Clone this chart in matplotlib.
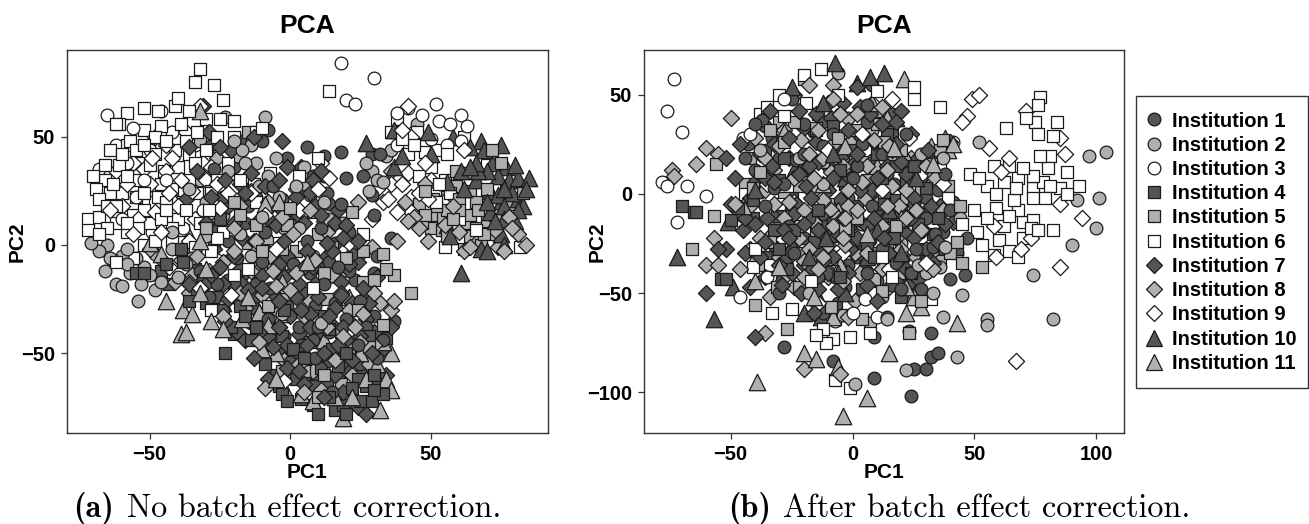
import numpy as np
import matplotlib
matplotlib.use("Agg")
import matplotlib.pyplot as plt
from matplotlib.lines import Line2D

labels = ["Institution %d" % i for i in range(1, 12)]
DARK = "#555555"; GREY = "#b0b0b0"; WHITE = "#ffffff"
colors = [DARK, GREY, WHITE, DARK, GREY, WHITE, DARK, GREY, WHITE, DARK, GREY]
markers = ["o", "o", "o", "s", "s", "s", "D", "D", "D", "^", "^"]
sizes = [84, 84, 84, 70, 70, 70, 68, 68, 68, 140, 140]

# ---------- panel (a) ----------
a1 = [(-8,53),(-18,48),(-10,48),(-1,40),(6,45),(12,41),(18,43),(20,31),(12,32),(26,32),(29,42),(32,42),(29,23),(30,14),(18,19),(14,19),(13,24),(16,1),(36,3),(31,-5),(30,-13),
(-26,29),(-27,35),(-3,21),(-6,27),(-12,22),(-16,10),(-22,2),(-32,-12),(-26,-18),(-20,-24),(-13,-29),(-8,-34),(-3,-15),(1,-9),(5,-22),(9,-28),(14,-40),(20,-34),(25,-26),(30,-33),(37,-35),(33,-44),(4,-46),(9,-52),(20,-58),(-4,-4),(6,2),(11,8),(-10,-8),(-17,-14),(-1,-28),(3,-38),(12,-18),(17,-10),(23,-16),(27,-22),(-7,-20),(16,-27),(24,-46),
(-20,36),(-15,18),(-24,22),(-34,-3),(-29,-24),(-12,-18),(7,-13),(14,-8),(22,-4),(10,-38),(18,-48),(6,-60),(-2,-42),(27,-38),(31,-52),(2,12),(-9,6),(-19,-6),(8,32),(21,6),
(-14,-36),(-22,-16),(0,-54),(8,-44),(15,-68),(21,-12),(25,-55)]
a2 = [(-23,59),(-9,59),(-14,46),(-17,44),(-20,48),(-19,41),(-12,38),(5,36),(-4,22),(-10,13),(-65,0),(-60,-5),(-68,-3),(-63,-7),(-58,-2),(-66,-12),(-62,-18),(-71,1),(-60,-19),(-54,-26),(-52,-10),(-57,-13),(-48,-4),(-40,-15),(-46,-17),(-24,14),(-18,5),(-30,20),(-36,26),(2,27),(7,23),(19,10),(22,0),(14,12),(27,38),(34,41),(29,34),(31,30),(28,25),(33,29),(-2,8),(8,-5),(-14,-5),(-30,4),(-42,6),(36,44),(45,56),(-11,27),(-3,-32),(11,-36),
(-55,-6),(-50,-14),(-44,-9),(-64,-6),(-35,-6),(-27,11),(-16,38),(-8,32),(3,8),(12,20),(-32,30),(-6,-10),(-48,-21),
(-42,-2),(-37,-9),(-53,-18),(-58,-9),(-22,34),(-5,40)]
a3 = [(18,84),(30,77),(20,67),(23,65),(38,61),(42,63),(52,65),(61,60),(63,55),(57,56),(53,57),(50,49),(38,46),(61,48),(47,60),(-65,60),(-62,46),(-46,62),(-58,38),(-50,44),(-39,24),(-68,35),(-55,22),(-44,30),(-31,16),(-24,-2),(-49,6),(-38,8),(-60,12),(-52,30),(-34,46),(-42,52),(44,52),(56,46),(-56,54),(-28,40)]
a4 = [(-27,2),(-25,12),(-55,-13),(-52,-13),(-39,-2),(-46,-12),(-43,-18),(-33,-22),(-31,-16),(-38,-8),(-26,-24),(-24,-30),(-20,-41),(-21,-38),(-14,-44),(-9,-46),(-8,-38),(-3,-42),(1,-48),(5,-52),(-4,-65),(-3,-69),(4,-71),(9,-65),(14,-70),(16,-76),(19,-74),(25,-72),(29,-72),(33,-69),(27,-65),(24,-62),(11,-57),(17,-56),(20,-50),(24,-48),(34,-43),(14,-39),(-2,-30),(-16,-33),(-23,-50),(8,-74),(20,-78),(12,-33),(-9,-55),(-26,8),
(-30,-27),(-36,-26),(-18,-28),(-12,-38),(-5,-60),(2,-62),(13,-64),(22,-66),(30,-60),(6,-58),(-3,-50),(15,-48),(28,-42),
(-44,-9),(-34,-11),(-20,-18),(-1,-72),(10,-78),(30,-67)]
a5 = [(-32,48),(-15,52),(-28,25),(-12,9),(0,17),(10,5),(8,15),(15,-1),(22,15),(-10,-3),(-4,-10),(2,-3),(12,-13),(26,-3),(33,-4),(37,-14),(43,-22),(33,-37),(30,-16),(24,-30),(13,-25),(18,-40),(26,-40),(21,-51),(12,-60),(-2,-25),(8,-33),(5,-58),(28,-47),(-8,-28),(-15,1),(26,-17),(34,-11),(20,-6),(48,25),(51,21),(46,19),(56,16),(60,21),(60,16),(66,8),(64,4),(70,11),(68,0),(58,12),(53,13),(64,25),(73,14),(48,14),(70,26),(59,27),(66,20),(63,33),(83,24),(72,44),(50,8),(62,-2),(-1,9),(5,28),(-20,20),
(54,7),(56,4),(52,18),(62,10),(67,16),(72,5),(78,19),(75,38),(59,34),(10,-70),(18,-64),(-3,-58),(7,-45),(-18,14),(-30,8),
(56,22),(50,14),(47,10),(64,14),(69,5),(77,25),(-13,-12),(-3,-2)]
a6 = [(-32,81),(-34,75),(-27,74),(-24,67),(-40,68),(-58,61),(-52,63),(-41,64),(-47,62),(-36,62),(-61,56),(-52,53),(-46,55),(-39,56),(-33,52),(-20,57),(-58,46),(-64,44),(-55,44),(-48,42),(-41,44),(-36,42),(-66,37),(-61,37),(-50,37),(-45,34),(-34,38),(-26,30),(-70,32),(-63,28),(-55,30),(-42,26),(-36,30),(-68,21),(-62,18),(-55,22),(-48,20),(-44,20),(-37,16),(-29,16),(-72,12),(-66,13),(-62,10),(-50,10),(-46,12),(-38,7),(-30,6),(-24,6),(-72,7),(-68,5),(-58,6),(-52,0),(-42,2),(-34,-1),(-62,-8),(-56,-6),(-28,-3),(-12,52),(-10,54),(-18,30),(-13,28),(-6,22),(-12,20),(-20,-14),(-15,-11),(-8,-7),(5,-1),(14,71),(3,32),(10,40),(26,5),(38,58),(45,52),(36,52),(56,42),(50,36),(60,33),(62,50),(42,42),(53,28),(70,37),(57,24),(52,20),(60,12),(66,7),(55,-1),(-34,-2),(-28,-30),(-4,1),(-54,8),(82,-1),(-62,56),(-57,48),(-26,3),(8,-20),(-7,33),
(-66,30),(-60,24),(-58,32),(-52,24),(-46,28),(-40,36),(-30,44),(-26,50),(-44,16),(-56,14),(-64,24),(-48,50),(-37,48),(-25,58),(-30,58),(-68,13),(-40,12),(-52,16),(44,46),(48,43),(55,30),
(-69,26),(-65,18),(-60,42),(-54,38),(-47,22),(-42,8),(-48,2),(-58,10),(-33,24),(-22,38),(-20,50),(-44,48),(-52,46),(-38,20),(-32,10),(-28,24),(-65,8),(40,49),(52,44),(46,32)]
a7 = [(-31,64),(-29,52),(-13,50),(-36,45),(-25,45),(-28,46),(-21,44),(-3,48),(-14,33),(-23,30),(-37,21),(-18,28),(-9,27),(-1,36),(11,34),(-22,18),(-12,10),(-7,18),(2,22),(7,24),(-17,3),(-5,9),(5,10),(11,14),(20,9),(-9,-2),(-1,-5),(6,-3),(13,1),(19,3),(-27,-2),(-18,-11),(-10,-14),(-2,-15),(5,-10),(11,-11),(18,-17),(24,-8),(-22,-25),(-15,-21),(-6,-22),(2,-24),(9,-18),(16,-29),(26,-20),(-14,-32),(-7,-30),(0,-33),(7,-32),(14,-33),(21,-35),(28,-27),(-19,-40),(-11,-40),(-4,-38),(3,-41),(10,-42),(17,-46),(25,-42),(-6,-47),(2,-50),(9,-56),(16,-60),(22,-53),(29,-50),(34,-60),(30,-63),(-1,-57),(5,-64),(12,-70),(24,-75),(27,-78),(19,-68),(-30,10),(-25,-10),(31,-15),(36,-38),(15,-3),(-2,2),(8,30),
(-12,-24),(-4,-9),(3,-18),(10,-24),(18,-23),(-17,-18),(-8,-42),(-1,-46),(6,-46),(12,-50),(20,-44),(27,-34),(-24,-18),(-30,-18),(-20,-5),(-13,2),(0,10),(9,18),(16,10),(24,2),(-8,12),(-20,10),(-28,22),(-16,24),(-4,30),(4,36),(13,-5),(22,-27),(4,-30),(-4,-26),(15,-37),(30,-40),(14,-53),(7,-38),(-13,-52),(26,-58),(33,-48),(-36,-18),
(-16,-44),(-10,-20),(1,-12),(8,-10),(21,-9),(19,-38),(3,-58),(-8,-62),(10,-62),(18,-55),(-23,-35),(-28,-14),(-11,-6),(-3,16),(17,16),(-33,34)]
a8 = [(-26,40),(-14,25),(-8,20),(-20,8),(-33,-5),(-24,-8),(-39,-7),(-14,-12),(-7,-5),(1,5),(13,6),(24,-5),(18,-22),(9,-7),(2,-13),(-10,-23),(-4,-31),(5,-33),(13,-38),(26,-32),(32,-27),(36,-30),(37,-26),(25,-45),(19,-42),(-5,-40),(-2,-53),(3,-55),(-9,-66),(5,-68),(22,-60),(28,-55),(-16,-29),(-6,-12),(-20,-3),(-35,-14),(-36,-22),(29,-1),(38,2),(7,16),(12,11),(24,20),(41,20),(44,13),(46,8),(49,2),(36,34),(48,28),(42,11),(58,18),(68,5),(74,-1),(84,0),(62,-3),(78,13),(70,8),(66,1),(81,5),(16,-53),(-11,-45),
(-28,15),(-18,18),(-3,13),(-12,2),(0,-21),(7,-26),(11,-46),(21,-30),(30,-22),(-24,-33),(-29,-12),(-45,-8),(-50,-2),(11,-67),(23,-38),(-2,-60),(55,9),(73,7),(76,-3),(60,6),(17,-14),(2,26),
(-41,-17),(-18,-22),(-5,-19),(15,-14),(8,-58),(30,-46),(64,-1),(79,8)]
a9 = [(-32,64),(-37,52),(-44,46),(-52,35),(-39,30),(-30,30),(-44,34),(-26,28),(-48,15),(-56,5),(-43,-10),(-36,-17),(-14,24),(-9,14),(-21,-23),(-14,-35),(-4,-38),(11,38),(14,31),(10,26),(3,16),(29,12),(43,50),(42,64),(40,53),(42,33),(48,38),(33,20),(35,21),(38,15),(43,22),(43,15),(49,21),(46,24),(40,28),(54,20),(50,30),(-17,-26),(-32,-20),(-5,-2),(8,-44),(-2,-63),(-25,17),(21,1),(62,44),(31,26),(36,28),
(-58,28),(-50,28),(-42,40),(-35,25),(-48,50),(-60,18),(-54,12),(-46,6),(-34,12),(-28,36),(-40,18),(-22,24),(-64,16),(-56,38),
(-62,34),(-36,2),(-43,24),(-49,40),(-31,38)]
a10 = [(75,46),(68,48),(64,45),(85,31),(80,37),(77,36),(74,32),(81,31),(84,26),(76,26),(71,25),(81,21),(76,18),(81,16),(73,11),(80,11),(75,5),(76,0),(68,-2),(70,-3),(56,9),(57,4),(56,29),(62,26),(66,38),(50,42),(58,50),(49,52),(37,53),(40,41),(27,47),(37,36),(61,-13),(69,44),(70,20),(78,30),(74,23),(66,30),(71,15),(61,34),
(72,38),(79,24),(83,18),(67,34),(64,36),(74,17),(70,34),(76,12)]
a11 = [(-32,62),(-40,11),(-50,1),(-46,-4),(-32,2),(-8,4),(-12,-1),(-9,19),(-4,20),(-32,-22),(-24,-27),(-38,-30),(-39,-41),(-17,-34),(-24,-39),(-10,-48),(-11,-31),(-5,-50),(-3,-17),(6,-8),(21,-24),(-3,-32),(-8,-37),(-37,-40),(-15,-24),(36,-50),(33,-45),(34,-62),(36,-67),(-5,-62),(-2,-66),(8,-72),(25,-50),(22,-70),(32,-76),(19,-80),(12,-44),(4,-69),(31,-55),(-30,-11),
(-44,-26),(-35,-32),(16,-70),(27,-62),(-28,-35),(-36,4)]

# ---------- panel (b) ----------
b1 = [(24,-102),(9,-93),(-8,-84),(-28,-77),(9,-72),(32,-70),(23,-69),(14,-62),(32,-82),(35,-80),(25,-88),(30,-88),(46,-41),(40,-43),(-30,-50),(-6,-55),(-3,-47),(-12,-60),(16,-46),(20,-48),(23,-45),(28,-48),(-36,34),(-37,37),(-40,35),(-43,25),(-33,28),(-38,10),(-32,3),(-20,20),(-16,31),(-23,17),(-20,35),(-8,30),(6,45),(8,55),(16,40),(22,30),(12,20),(2,14),(-10,14),(-2,-2),(8,-6),(-12,-22),(-24,-30),(2,-32),(13,-18),(20,-10),(30,-12),(40,-8),(37,-19),(30,-32),(18,-35),(25,-5),(4,25),(-5,40),(35,2),(27,12),(-36,-6),(-14,-42),(7,-23),(41,-4),(33,-27),(47,-22),(-28,5),(17,5),(-25,48),
(-4,20),(6,36),(-12,24),(-30,18),(-40,12),(-18,-12),(-8,-14),(0,8),(12,-12),(22,-20),(34,-20),(26,-28),(6,-40),(-2,-36),(-20,-22),(12,-28),(30,-2),(38,10),(14,10),(10,-44),(-44,18),(-26,-16),(24,-40),(-6,-32)]
b2 = [(97,19),(104,21),(101,-2),(100,-17),(90,-26),(74,-41),(82,-63),(45,-51),(92,-3),(22,-89),(43,-82),(55,-63),(55,-66),(37,-62),(1,-96),(7,-65),(-4,-61),(-6,61),(52,26),(-18,-50),(43,-30),(36,-37),(30,-40),(38,-27),(33,-50),(25,-51),(-7,-42),(-22,18),(-38,22),(-12,5),(8,32),(16,16),(-2,38),(28,20),(37,18),(-30,-16),(-16,-34),(4,-15),(12,-52),(14,-63),(3,-52),(-5,-21),(20,-25),(44,-12),(27,-36),(-24,-7)]
b3 = [(-73,58),(-76,42),(-70,31),(-78,6),(-76,4),(-68,4),(-60,-1),(-72,-14),(-46,-52),(-28,48),(-15,-55),(10,-62),(-45,28),(-42,30),(5,-53),(-7,-64),(-12,-40),(41,26),(-35,-42),(0,-60),(-33,11),(20,-30),(28,10)]
b4 = [(-70,-6),(-65,-9),(-64,-9),(-54,-43),(-52,-43),(-28,-5),(-41,-12),(-50,-13),(-47,-7),(-30,-28),(-25,-2),(-15,32),(-30,7),(-20,12),(-5,-42),(20,-52),(-3,5),(-9,-57),(0,22),(13,-5),(20,-8),(28,-28),(-8,-21),(27,-15),(35,-12),(5,-15),(-17,-38),(10,20),(14,30),(9,-32),(-35,-32),(22,6),(18,-3),(30,3),(-27,-38),(8,-2),(-11,-16),(-28,18),(24,-40),(-5,12),(37,-28),(43,-28),(-41,-3),
(-24,-18),(-14,-8),(2,-6),(6,-26),(-8,34),(17,-22),(25,14),(33,-20),(-36,22),(12,8),(-16,-24),(-2,-18),(16,30),(4,-48),(-32,-18),(18,14)]
b5 = [(-66,-28),(-57,-11),(-56,15),(-27,-68),(-40,-56),(4,-63),(23,-70),(-9,-57),(12,-49),(28,-54),(53,-37),(-37,-36),(-22,-47),(-34,32),(-28,26),(-30,36),(-20,58),(-15,33),(-41,3),(-38,11),(-44,5),(-28,-2),(2,32),(10,42),(13,26),(-4,18),(6,7),(22,-2),(36,22),(37,27),(31,8),(-15,-18),(-20,-30),(-9,-33),(2,-12),(14,-25),(27,-10),(40,-30),(45,-35),(43,-24),(36,-34),(19,-40),(10,35),(-24,36),(32,15),(39,4),(9,-43),(-10,-5),(-31,-47),(-3,-17),
(-12,16),(4,16),(20,22),(-34,-24),(18,-16),(8,-30),(-22,4),(28,2),(-6,28),(44,-6),(-42,18)]
b6 = [(-33,-60),(-25,-58),(-11,-75),(-12,-68),(-15,-71),(-8,-73),(-1,-72),(-7,-94),(-1,-98),(7,-70),(32,-53),(77,49),(76,45),(71,38),(84,36),(63,33),(75,36),(76,30),(82,29),(77,19),(81,19),(80,13),(88,11),(93,4),(88,0),(85,3),(81,4),(79,-2),(74,9),(70,13),(64,14),(58,14),(55,4),(59,0),(67,3),(74,3),(74,-2),(66,-3),(59,-7),(64,-11),(70,-14),(74,-13),(73,-17),(76,-18),(82,-18),(70,-22),(60,-23),(51,-19),(45,-15),(53,-26),(58,-31),(64,-29),(68,-32),(36,44),(25,54),(25,48),(-20,60),(-13,63),(-35,44),(-28,39),(-23,39),(-14,40),(-19,46),(-6,50),(10,52),(-22,-10),(-30,-5),(-34,-36),(-41,-37),(-17,-44),(-16,-50),(-12,-58),(-2,-55),(16,-42),(12,-32),(36,14),(31,18),(39,-2),
(48,10),(52,8),(50,-8),(62,6),(68,8),(62,-16),(55,-12),(78,6),(68,-8),(-38,40),(-30,50),(-40,-28),(-44,0)]
b7 = [(-52,-28),(-40,-72),(-60,-50),(-16,-60),(-55,-28),(-50,-5),(-42,-2),(-46,25),(-52,18),(-32,6),(-20,33),(-12,36),(-4,46),(2,54),(-22,10),(-30,-8),(-35,-12),(-40,-15),(-28,-18),(-20,-15),(-12,-10),(-5,-3),(3,2),(10,8),(16,22),(-14,16),(-5,22),(4,28),(12,35),(18,25),(-26,18),(-32,25),(-38,20),(-44,-30),(-36,-24),(-25,-28),(-15,-28),(-6,-20),(2,-22),(9,-12),(17,-10),(25,-22),(-36,-42),(-25,-40),(-8,-32),(5,-38),(15,-30),(22,-38),(-6,-48),(10,-54),(27,-43),(30,-28),(38,-15),(25,-2),(32,-6),(28,8),(20,42),(-21,-50),(-14,-48),(-29,-46),(-42,-47),(22,10),(40,26),(7,40),(-17,-2),(0,15),(15,-2),(-10,2),(31,22),(-2,32),(7,16),(-23,-5),
(-45,-18),(-38,-32),(-30,-36),(-20,-36),(-10,-40),(-1,-28),(6,-16),(13,-22),(20,-16),(29,-18),(35,-24),(-33,14),(-26,28),(-15,26),(-9,38),(-1,8),(9,26),(20,16),(24,30),(10,-8),(-24,-10),(-14,-18),(-4,-12),(3,-30),(12,-38),(19,-46),(-34,42),(-22,42),(-10,46),(8,2),(14,14),(-19,4),(-8,8),(-40,6),(33,-35),(-18,-44),(24,-12),(18,36),(-31,-28),(-2,-40),(27,18),(3,44),(-48,8),(41,-14),(6,-46),
(-44,-12),(-26,-22),(-12,-34),(1,-14),(16,-16),(36,-6),(-36,8),(-18,14),(-7,-6),(12,-34),(28,-10),(-28,-34),(2,20),(21,-32),(-15,40),(34,18)]
b8 = [(-50,38),(-60,23),(-64,15),(-74,12),(-73,9),(-57,-22),(-60,-36),(-55,-36),(-20,-88),(-5,-91),(-36,-70),(-2,-62),(1,-54),(-46,-38),(-48,-5),(-55,20),(-40,28),(-36,18),(-28,32),(-18,20),(-14,-20),(-18,55),(-8,55),(-8,48),(-5,40),(-24,50),(-32,-5),(-22,-22),(-18,-28),(-14,-38),(-42,-28),(-33,-20),(-28,-12),(-24,8),(-16,8),(-9,11),(-2,-6),(-12,-3),(-6,-12),(2,-8),(10,-5),(8,-20),(18,-22),(28,-18),(-3,-26),(3,-40),(12,-38),(20,-28),(6,14),(14,12),(24,18),(-8,25),(4,6),(22,2),(33,-38),(-10,-42),(-24,-47),(-28,-42),(37,-8),(9,27),(34,8),(15,-47),(-2,2),(-20,-8),(-4,-22),
(-46,-10),(-38,-22),(-30,-32),(-20,-42),(-12,-32),(-6,-36),(-16,-14),(-26,-32),(-8,-16),(-3,-12),(5,-2),(16,4),(19,-6),(26,-8),(-12,18),(-21,27),(-32,12),(-14,32),(2,40),(12,44),(-1,26),(8,-32),(-9,-8),(-4,14),(15,24),(26,-32),(-34,-52),(-20,-34),(6,-30),(30,14),
(-42,-6),(-26,-4),(-10,-26),(12,-16),(22,-12),(32,-30),(-36,2),(-30,24),(-4,-44),(14,-6),(-16,2),(1,-30)]
b9 = [(67,-84),(85,-37),(94,-12),(85,-5),(87,20),(85,28),(71,42),(49,48),(52,50),(45,36),(47,39),(56,23),(64,18),(58,-16),(69,-28),(-24,-4),(-30,-30),(8,46),(16,48),(4,30),(-16,-6),(12,2),(-14,-55),(-4,-30),(30,-35),(59,-32),(73,-22),(37,5),(61,11),(-10,22),(23,28),(15,-38),(-35,5)]
b10 = [(-72,-32),(-51,-14),(-7,66),(7,59),(13,61),(2,56),(-57,-63),(-49,-47),(-25,54),(-12,46),(-32,-10),(-20,-43),(-3,-50),(-18,-32),(-11,-22),(-15,-50),(6,-32),(15,-8),(26,8),(-8,20),(18,38),(-3,8),(-25,-26),(10,-18),(-40,2),(-13,-62),(-20,-60),
(3,-12),(-6,-40),(20,-30),(-24,12),(12,24),(-30,-44)]
b11 = [(-4,-112),(6,-103),(-39,-95),(-20,-80),(-15,-83),(15,-80),(43,-65),(28,-57),(-6,-87),(-16,-52),(-8,-62),(-39,-30),(-45,-6),(-28,31),(-30,-37),(-25,-19),(22,-60),(25,-52),(38,28),(41,25),(32,24),(22,18),(14,38),(20,-12),(6,-20),(-15,-30),(-6,-8),(-40,-44),(-3,24),(33,15),(39,22),(29,-35),(-12,5),(22,-47),(17,23),(10,14),(-5,-36),(21,58),(8,46)]

panel_a = [a1, a2, a3, a4, a5, a6, a7, a8, a9, a10, a11]
panel_b = [b1, b2, b3, b4, b5, b6, b7, b8, b9, b10, b11]

xlim_a, ylim_a = (-79.4, 91.8), (-86.8, 90)
xlim_b, ylim_b = (-85.5, 111.3), (-120.5, 72.5)
xticks_a, yticks_a = [-50, 0, 50], [-50, 0, 50]
xticks_b, yticks_b = [-50, 0, 50, 100], [-100, -50, 0, 50]

W, H = 1309, 524
fig = plt.figure(figsize=(W / 100, H / 100), dpi=100)
SANS = ["Liberation Sans", "DejaVu Sans"]
SPINE = "#333333"


def draw(rect, panel, xlim, ylim, xticks, yticks, ylab_x):
    l, t, r, b = rect
    ax = fig.add_axes([l / W, 1 - b / H, (r - l) / W, (b - t) / H])
    rounds = 5
    for k in range(rounds):
        for pts, c, m, s in zip(panel, colors, markers, sizes):
            arr = np.array(pts, dtype=float)[k::rounds]
            if len(arr):
                ax.scatter(arr[:, 0], arr[:, 1], s=s, c=c, marker=m,
                           edgecolors="#1a1a1a", linewidths=0.9)
    ax.set_xlim(xlim); ax.set_ylim(ylim)
    ax.set_xticks(xticks); ax.set_yticks(yticks)
    ax.set_xticklabels([str(v).replace("-", "\u2212") for v in xticks],
                       fontfamily=SANS, fontweight="bold", fontsize=14.5)
    ax.set_yticklabels([str(v).replace("-", "\u2212") for v in yticks],
                       fontfamily=SANS, fontweight="bold", fontsize=14.5)
    ax.tick_params(length=4.5, width=0.9, color=SPINE, pad=4)
    for sp in ax.spines.values():
        sp.set_color(SPINE); sp.set_linewidth(1.0)
    ax.set_title("PCA", fontfamily=SANS, fontweight="bold", fontsize=19, pad=12)
    ax.set_xlabel("PC1", fontfamily=SANS, fontweight="bold", fontsize=15, va="center")
    ax.set_ylabel("PC2", fontfamily=SANS, fontweight="bold", fontsize=15, va="center")
    ax.xaxis.set_label_coords(0.5, -0.102)
    ax.yaxis.set_label_coords(ylab_x, 0.5)
    return ax


draw((67, 50, 548, 433), panel_a, xlim_a, ylim_a, xticks_a, yticks_a, -0.104)
draw((644, 50, 1124, 433), panel_b, xlim_b, ylim_b, xticks_b, yticks_b, -0.098)

handles = [Line2D([], [], ls="none", marker=m, mfc=c, mec="#1a1a1a", mew=0.9,
                  ms=s ** 0.5) for c, m, s in zip(colors, markers, sizes)]
leg = fig.legend(handles, labels, loc="lower left",
                 bbox_to_anchor=(1136 / W, 1 - 388 / H, 172 / W, 291 / H),
                 mode="expand", frameon=True, fancybox=False, edgecolor=SPINE,
                 framealpha=1, borderaxespad=0, borderpad=0.75, labelspacing=0.26,
                 handletextpad=0.75, handlelength=0.3,
                 prop={"family": SANS, "weight": "bold", "size": 14.5})
leg.get_frame().set_linewidth(1.0)

CAP = 23.2
fig.text(73 / W, 1 - 517 / H, "(a)", family="cmb10", fontsize=CAP, va="baseline", color="black")
fig.text(127 / W, 1 - 517 / H, "No batch effect correction.", family="cmr10", fontsize=CAP, va="baseline", color="black")
fig.text(728 / W, 1 - 517 / H, "(b)", family="cmb10", fontsize=CAP, va="baseline", color="black")
fig.text(783 / W, 1 - 517 / H, "After batch effect correction.", family="cmr10", fontsize=CAP, va="baseline", color="black")

fig.savefig("out.png", dpi=100)
